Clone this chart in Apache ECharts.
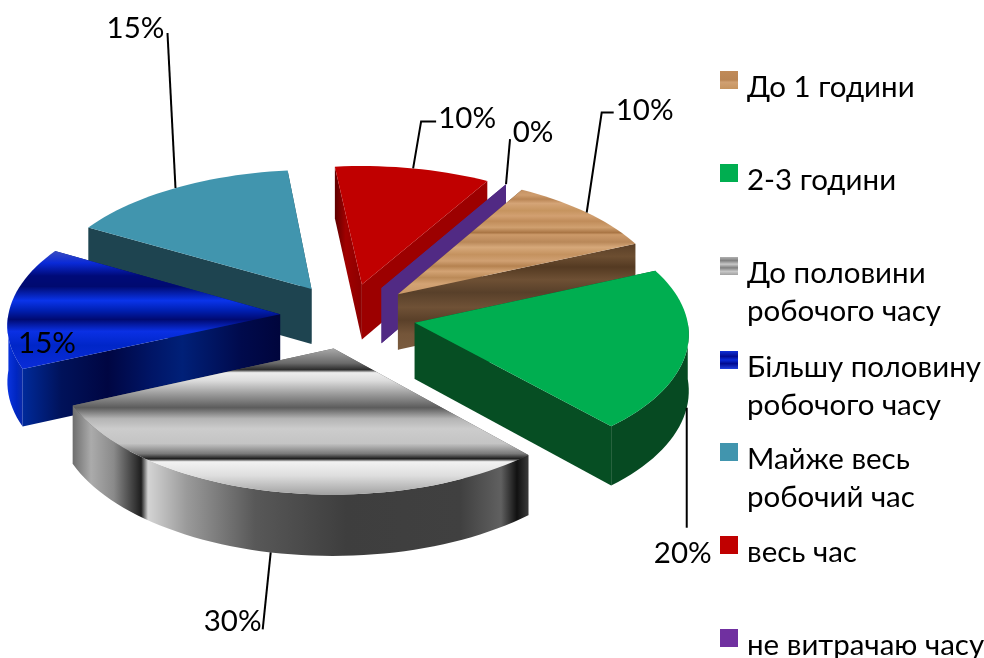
<!DOCTYPE html>
<html>
<head>
<meta charset="utf-8">
<style>html,body{margin:0;padding:0;background:#fff}#chart{width:984px;height:658px}</style>
<script src="https://cdn.jsdelivr.net/npm/echarts@6/dist/echarts.min.js"></script>
</head>
<body>
<div id="chart"></div>
<script>
// Time-spent survey: exploded 3D pie built from custom series.
const categories = ['До 1 години', '2-3 години', 'До половини робочого часу', 'Більшу половину робочого часу', 'Майже весь робочий час', 'весь час', 'не витрачаю часу'];
const shares = [10, 20, 30, 15, 15, 10, 0];
const legendLines = [['До 1 години'], ['2-3 години'], ['До половини', 'робочого часу'], ['Більшу половину', 'робочого часу'], ['Майже весь', 'робочий час'], ['весь час'], ['не витрачаю часу']];

const FONT = 'Lato, "Open Sans", sans-serif';
const LABEL_SIZE = 29.5;
const firstAngle = 30;
const pie = { cx: 348, cy: 316, rx: 272, ry: 131, depth: 56, explode: 0.25, persp: 0.07 };

function bands(stops, vertical) {
  return { type: 'linear', x: 0, y: 0, x2: vertical ? 0 : 1, y2: vertical ? 1 : 0, global: false,
    colorStops: stops.map(s => ({ offset: s[0], color: s[1] })) };
}
const wood = bands([[0,'#c49162'],[.05,'#cf9d6e'],[.09,'#b98554'],[.13,'#d4a477'],[.2,'#c6945f'],[.25,'#d2a071'],[.3,'#c08c5a'],[.36,'#d0a070'],[.41,'#a97544'],[.43,'#cc9a6a'],[.5,'#b98859'],[.55,'#d6a87a'],[.62,'#c4925f'],[.68,'#d0a072'],[.73,'#b58250'],[.78,'#d3a374'],[.84,'#bb8a58'],[.9,'#d3a374'],[1,'#c89868']], true);
const woodSide = bands([[0,'#5a3f27'],[.12,'#6c4e31'],[.22,'#543a22'],[.34,'#6e5034'],[.46,'#58402a'],[.6,'#6f5136'],[.72,'#5a4029'],[.85,'#745539'],[1,'#7a5b3e']], true);
const grayTop = bands([[0,'#a8a8a8'],[.1,'#6a6a6a'],[.145,'#2c2c2c'],[.165,'#ededed'],[.22,'#dcdcdc'],[.31,'#9c9c9c'],[.405,'#5c5c5c'],[.48,'#b4b4b4'],[.55,'#cccccc'],[.65,'#c4c4c4'],[.72,'#7a7a7a'],[.755,'#1c1c1c'],[.775,'#f2f2f2'],[.87,'#dedede'],[1,'#a2a2a2']], true);
const grayRim = bands([[0,'#6e6e6e'],[.04,'#ababab'],[.09,'#8a8a8a'],[.135,'#3a3a3a'],[.15,'#1e1e1e'],[.165,'#d4d4d4'],[.25,'#9a9a9a'],[.4,'#585858'],[.6,'#3e3e3e'],[.85,'#404040'],[.94,'#606060'],[.975,'#111111'],[1,'#3a3a3a']], false);
const blueTop = bands([[0,'#3a4cc0'],[.1,'#0a2ad8'],[.21,'#000a78'],[.3,'#000a70'],[.42,'#0a34ea'],[.5,'#0020b4'],[.58,'#000a72'],[.68,'#0a30e4'],[.8,'#0026c8'],[1,'#0a2cd8']], true);
const blueSide = bands([[0,'#002a9a'],[.15,'#00125a'],[.33,'#000642'],[.5,'#001566'],[.62,'#002078'],[.85,'#000a4c'],[1,'#00053c']], false);
const blueRim = bands([[0,'#0a34e0'],[.6,'#0026c0'],[1,'#0a2aa8']], false);
const redSide = bands([[0,'#5e0000'],[.4,'#a00000'],[1,'#8c0000']], false);

// Surface paint for each slice, one entry per category.
const topFills = [wood, '#00ae50', grayTop, blueTop, '#4195ae', '#c00000', '#512a84'];
const startWalls = [woodSide, '#064e23', '#555555', blueSide, '#1e4450', redSide, '#512a84'];
const endWalls = [woodSide, '#064e23', '#555555', blueSide, '#1e4450', '#9c0000', '#512a84'];
const rimFills = [woodSide, '#064a22', grayRim, blueRim, '#1e4450', '#8c0000', '#512a84'];
const legendFills = [bands([[0,'#c08a58'],[.5,'#b98554'],[.62,'#d0a072'],[1,'#c6945f']], true), '#00ae50',
  bands([[0,'#b0b0b0'],[.2,'#808080'],[.4,'#c8c8c8'],[.6,'#808080'],[.8,'#c8c8c8'],[1,'#a0a0a0']], true),
  bands([[0,'#1030d8'],[.3,'#000a90'],[.5,'#0a2ad8'],[.7,'#000a90'],[1,'#2040e0']], true), '#4195ae', '#c00000', '#7030a0'];

// Leader routing, relative to the slice's rim anchor: elbow points, label offset, rim level.
const leaders = [
  { pts: [[15, -100], [27, -100]], text: [58, -102], low: 0 },
  { pts: [[0, 120]], text: [-4, 146], low: 1 },
  { pts: [[-8, 77]], text: [-38, 69], low: 1 },
  { pts: [], text: [37, 36], low: 0 },
  { pts: [[-8, -155]], text: [-40, -160], low: 0 },
  { pts: [[8, -47], [23, -47]], text: [54, -50], low: 0 },
  { pts: [[4, -45]], text: [27, -52], low: 0 }
];
const drawOrder = [4, 5, 6, 0, 3, 1, 2];
const legendTops = [54, 147, 202, 296, 388, 519, 612];

const total = shares.reduce((a, b) => a + b, 0);
const spans = [];
shares.reduce((from, v) => { const to = from + v / total * 360; spans.push([from, to]); return to; }, firstAngle);

function project(X, Y, level) {
  const p = 1 / (1 - pie.persp * Y);
  return [pie.cx + X * pie.rx * p, pie.cy + (Y * pie.ry + level * pie.depth) * p];
}
const rad = d => d * Math.PI / 180;

function makeRenderer(i) {
  return function (params, api) {
    const share = api.value(0), a0 = api.value(1), a1 = api.value(2);
    const mid = rad((a0 + a1) / 2);
    const ox = pie.explode * Math.sin(mid), oy = -pie.explode * Math.cos(mid);
    const rimAt = (deg, level) => project(ox + Math.sin(rad(deg)), oy - Math.cos(rad(deg)), level);
    const apex = level => project(ox, oy, level);
    const arc = (from, to, level) => {
      const out = [], n = Math.max(1, Math.ceil(Math.abs(to - from) / 2));
      for (let k = 0; k <= n; k++) out.push(rimAt(from + (to - from) * k / n, level));
      return out;
    };
    const poly = (points, fill, z2) => ({ type: 'polygon', z2, shape: { points }, style: { fill, stroke: null } });
    const children = [];

    const walls = [
      { y: Math.cos(rad(a0)), el: poly([apex(0), rimAt(a0, 0), rimAt(a0, 1), apex(1)], startWalls[i], 1) },
      { y: Math.cos(rad(a1)), el: poly([apex(0), rimAt(a1, 0), rimAt(a1, 1), apex(1)], endWalls[i], 1) }
    ];
    walls.sort((p, q) => q.y - p.y).forEach(w => children.push(w.el));

    // The curved outer wall only shows on the near half of the pie.
    const f0 = Math.max(a0, 90), f1 = Math.min(a1, 270);
    if (f1 > f0) {
      children.push(poly(arc(f0, f1, 0).concat(arc(f1, f0, 1)), rimFills[i], 2));
    }
    children.push(poly([apex(0)].concat(arc(a0, a1, 0)), topFills[i], 3));

    const lead = leaders[i];
    const anchor = rimAt((a0 + a1) / 2, lead.low);
    if (lead.pts.length) {
      const line = [anchor].concat(lead.pts.map(p => [anchor[0] + p[0], anchor[1] + p[1]]));
      children.push({ type: 'polyline', z2: 4, shape: { points: line }, style: { fill: null, stroke: '#000', lineWidth: 2 } });
    }
    children.push({ type: 'text', z2: 5, style: {
      x: anchor[0] + lead.text[0], y: anchor[1] + lead.text[1],
      text: Math.round(share / total * 100) + '%', fill: '#000',
      font: LABEL_SIZE + 'px ' + FONT, align: 'center', verticalAlign: 'middle' } });
    return { type: 'group', children };
  };
}

// A spacer line above the text sets the drop of the first text line below the swatch.
const lineStyle = { fontFamily: FONT, fontSize: LABEL_SIZE, lineHeight: 38, height: 38, color: '#000' };
const chart = echarts.init(document.getElementById('chart'), null, { renderer: 'canvas' });
chart.setOption({
  animation: false,
  backgroundColor: '#fff',
  legend: categories.map((name, i) => ({
    left: 720, top: legendTops[i], padding: 0, orient: 'vertical', selectedMode: false,
    itemWidth: 18, itemHeight: 18, itemGap: 0,
    data: [{ name, icon: 'rect', itemStyle: { color: legendFills[i], borderWidth: 0 } }],
    formatter: () => '{s|  }\n' + legendLines[i].map(t => '{t|' + t + '}').join('\n'),
    textStyle: { padding: [0, 0, 0, 4], rich: {
      s: { fontSize: 2, lineHeight: legendLines[i].length > 1 ? 52 : 14, height: legendLines[i].length > 1 ? 52 : 14 },
      t: lineStyle } }
  })),
  series: categories.map((name, i) => ({
    type: 'custom', name, coordinateSystem: 'none', silent: true,
    z: 2 + drawOrder.indexOf(i),
    itemStyle: { color: typeof topFills[i] === 'string' ? topFills[i] : '#888' },
    renderItem: makeRenderer(i),
    data: [[shares[i], spans[i][0], spans[i][1]]]
  }))
});
</script>
</body>
</html>
